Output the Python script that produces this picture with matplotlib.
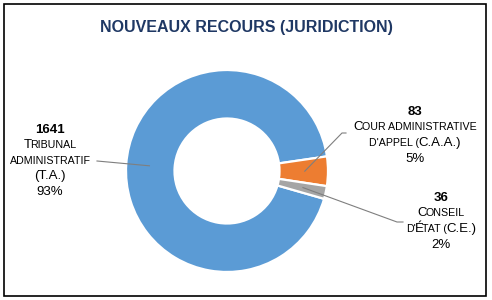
import matplotlib
matplotlib.use("Agg")
import matplotlib.pyplot as plt
import numpy as np
from matplotlib.lines import Line2D
from matplotlib.patches import Rectangle
from matplotlib.offsetbox import TextArea, HPacker, AnnotationBbox
import matplotlib.transforms as mtransforms

plt.rcParams['font.family'] = ['Liberation Sans', 'DejaVu Sans']

# data
labels = ['Tribunal administratif (T.A.)', "Cour administrative d'appel (C.A.A.)", "Conseil d'État (C.E.)"]
counts = [1641, 83, 36]
percents = ['93%', '5%', '2%']
colors = ['#5B9BD5', '#ED7D31', '#A5A5A5']
label_lines = [['Tribunal', 'administratif', '(T.A.)'],
               ['Cour administrative', "d'appel (C.A.A.)"],
               ['Conseil', "d'État (C.E.)"]]

W, H = 492, 300
fig = plt.figure(figsize=(W / 100, H / 100), dpi=100)

# border
fig.add_artist(Rectangle((4, H - 296), 482, 292, transform=mtransforms.IdentityTransform(),
                         fill=False, edgecolor='black', lw=1.2))

fig.text(246 / W, 1 - 27.5 / H, 'NOUVEAUX RECOURS (JURIDICTION)', ha='center', va='center',
         fontsize=11.5, fontweight='bold', color='#1F3864')

# donut
cx, cy, R = 227, 171, 103
ax = fig.add_axes([(cx - R) / W, (H - cy - R) / H, 2 * R / W, 2 * R / H])
wedges, _ = ax.pie(counts, colors=colors, startangle=344, counterclock=False, radius=1,
                   wedgeprops=dict(width=0.48, edgecolor='white', linewidth=1.6))
ax.set_xlim(-1.02, 1.02)
ax.set_ylim(-1.02, 1.02)
ax.axis('off')

BIG, SMALL = 9.5, 7.7


def smallcaps(s, x, y, bold=False):
    runs = []
    for ch in s:
        small = ch.islower()
        if not ch.isalpha() and runs:
            small = runs[-1][1]
        t = ch.upper() if small else ch
        if runs and runs[-1][1] == small:
            runs[-1][0] += t
        else:
            runs.append([t, small])
    kids = [TextArea(t, textprops=dict(fontsize=SMALL if sm else BIG, color='#000000',
                                       fontweight='bold' if bold else 'normal'))
            for t, sm in runs]
    box = HPacker(children=kids, align='baseline', pad=0, sep=-0.8)
    ab = AnnotationBbox(box, (x, H - y), xycoords='figure pixels', frameon=False,
                        box_alignment=(0.5, 0.5), pad=0)
    fig.add_artist(ab)


# label blocks: (center x, first line y)
blocks = [(50, 130), (415, 112), (441, 198)]
for i, (bx, by) in enumerate(blocks):
    smallcaps(str(counts[i]), bx, by, bold=True)
    yy = by
    for ln in label_lines[i]:
        yy += 15.5
        smallcaps(ln, bx, yy)
    smallcaps(percents[i], bx, yy + 15.5)

# leader lines
ends = [[(97, 161)], [(346, 133), (342, 133)], [(403, 222), (397, 222)]]
for w, pts in zip(wedges, ends):
    mid = np.deg2rad((w.theta1 + w.theta2) / 2)
    px, py = ax.transData.transform((0.77 * np.cos(mid), 0.77 * np.sin(mid)))
    xs = [p[0] for p in pts] + [px]
    ys = [H - p[1] for p in pts] + [py]
    fig.add_artist(Line2D(xs, ys, transform=mtransforms.IdentityTransform(),
                          color='#7F7F7F', lw=0.8))

fig.savefig('out.png', dpi=100)
